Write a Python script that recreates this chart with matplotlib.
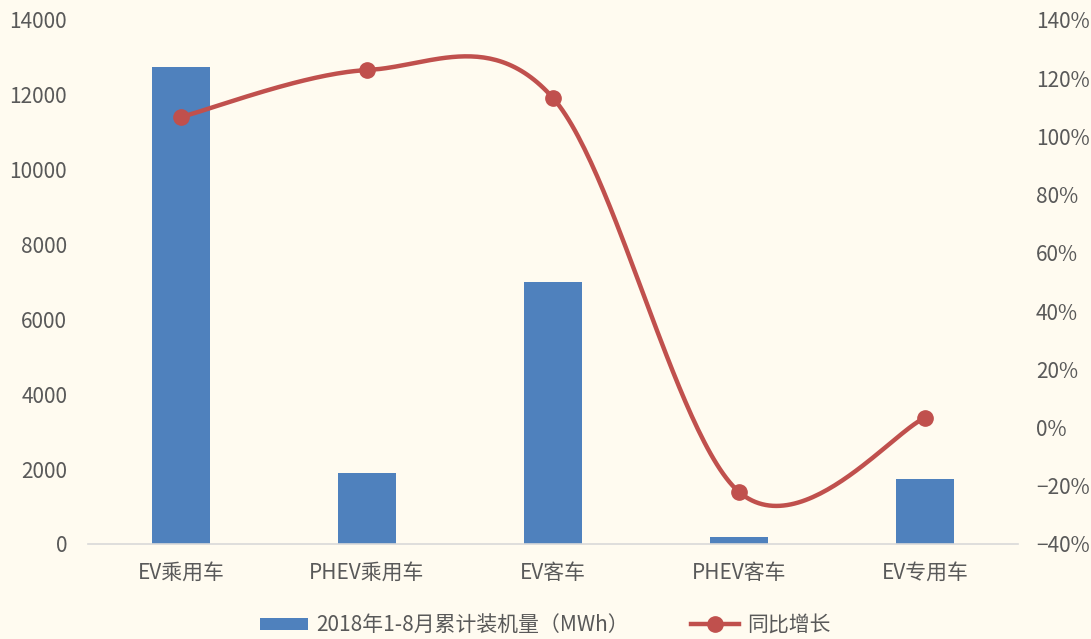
import numpy as np
import matplotlib.pyplot as plt
from matplotlib.ticker import FuncFormatter

plt.rcParams['font.family'] = ['Noto Sans CJK SC', 'DejaVu Sans']

categories = ['EV乘用车', 'PHEV乘用车', 'EV客车', 'PHEV客车', 'EV专用车']
capacity_mwh = [12750, 1900, 7000, 180, 1750]
growth_pct = [106.7, 122.8, 113.2, -22.1, 3.3]

bg = '#FFFBF0'
bar_color = '#4F81BD'
line_color = '#C0504D'
text_color = '#595959'


def catmull_rom(xs, ys, n=60):
    # smooth curve through every point, end points repeated
    px = np.concatenate([[xs[0]], xs, [xs[-1]]])
    py = np.concatenate([[ys[0]], ys, [ys[-1]]])
    out_x, out_y = [], []
    t = np.linspace(0, 1, n)
    for i in range(1, len(px) - 2):
        for p, out in ((px, out_x), (py, out_y)):
            p0, p1, p2, p3 = p[i - 1], p[i], p[i + 1], p[i + 2]
            c1 = p1 + (p2 - p0) / 6
            c2 = p2 - (p3 - p1) / 6
            seg = ((1 - t) ** 3 * p1 + 3 * (1 - t) ** 2 * t * c1
                   + 3 * (1 - t) * t ** 2 * c2 + t ** 3 * p2)
            out.extend(seg)
    return np.array(out_x), np.array(out_y)


fig = plt.figure(figsize=(10.91, 6.39), dpi=100, facecolor=bg)
ax = fig.add_axes([88 / 1091, 1 - 544 / 639, 930 / 1091, 524 / 639])
ax.set_facecolor(bg)
x = np.arange(len(categories))

bars = ax.bar(x, capacity_mwh, width=0.31, color=bar_color,
              label='2018年1-8月累计装机量（MWh）', zorder=2)
ax.set_xlim(-0.5, len(categories) - 0.5)
ax.set_ylim(0, 14000)
ax.set_yticks(range(0, 14001, 2000))
ax.set_xticks(x)
ax.set_xticklabels(categories)

ax2 = ax.twinx()
sx, sy = catmull_rom(x.astype(float), np.array(growth_pct))
ax2.plot(sx, sy, color=line_color, lw=3.2, solid_capstyle='round', zorder=3)
ax2.plot(x, growth_pct, 'o', color=line_color, ms=11, zorder=4)
line_handle, = ax2.plot([], [], color=line_color, lw=3.2, marker='o', ms=11)
ax2.set_ylim(-40, 140)
ax2.set_yticks(range(-40, 141, 20))
ax2.yaxis.set_major_formatter(
    FuncFormatter(lambda v, _: f'{v:.0f}%'.replace('-', '\u2212')))

for a in (ax, ax2):
    for s in a.spines.values():
        s.set_visible(False)
    a.tick_params(length=0, colors=text_color, labelsize=15)
ax.spines['bottom'].set_visible(True)
ax.spines['bottom'].set_color('#D9D9D9')
ax.spines['bottom'].set_linewidth(1.2)
ax.tick_params(axis='x', labelsize=15, pad=13)
ax.tick_params(axis='y', pad=15)
ax2.tick_params(axis='y', pad=13)

fig.legend([bars, line_handle], ['2018年1-8月累计装机量（MWh）', '同比增长'],
           loc='center', bbox_to_anchor=(0.5, 1 - 625 / 639), ncol=2,
           frameon=False, fontsize=15, labelcolor=text_color,
           handlelength=2.3, handleheight=0.5, columnspacing=3.0,
           handletextpad=0.4)

fig.savefig('out.png', dpi=100, facecolor=bg)
